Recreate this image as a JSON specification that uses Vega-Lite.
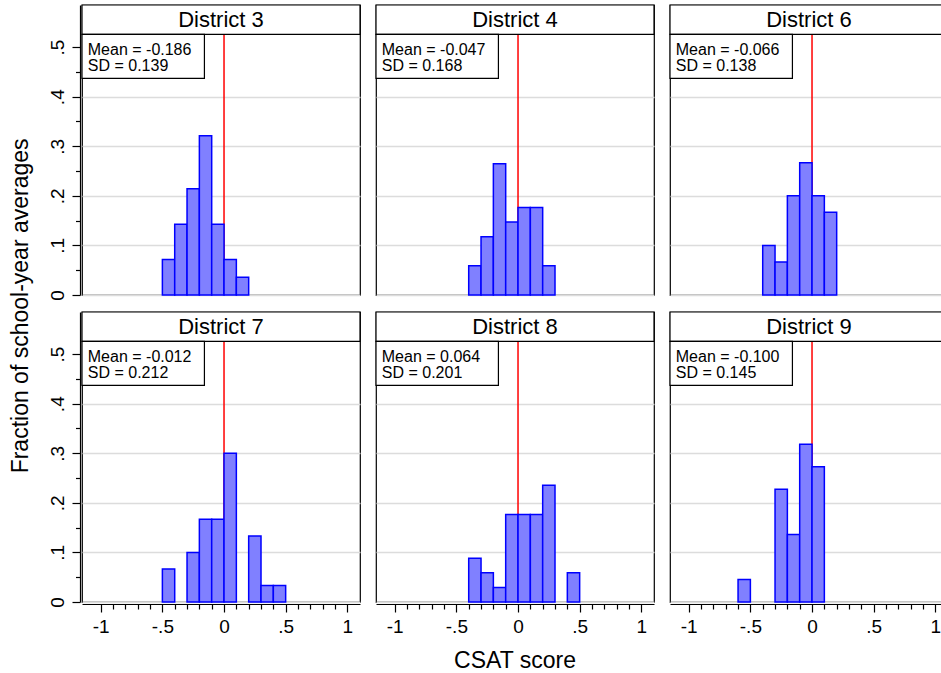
{
  "$schema": "https://vega.github.io/schema/vega-lite/v6.json",
  "background": "white",
  "padding": {"left": 9, "top": 2, "right": 0, "bottom": 0},
  "title": {"text": "Fraction of school-year averages", "orient": "left", "anchor": "middle", "fontSize": 23, "fontWeight": "normal", "color": "black", "offset": 15, "dx": 32},
  "config": {
    "font": "Liberation Sans",
    "view": {"stroke": "black", "strokeWidth": 1.2},
    "header": {"labels": false, "labelExpr": "''", "labelFontSize": 1, "labelPadding": 0, "labelColor": "white"},
    "axis": {"titleFontWeight": "normal", "titleFontSize": 23, "titleColor": "black", "labelColor": "black", "labelFontSize": 19, "domainColor": "black", "tickColor": "black", "domainWidth": 1.2, "tickWidth": 1.2, "labelOverlap": false, "labelFlush": false, "tickCount": 100}
  },
  "data": {"values": [
    {"kind": "bin", "district": "District 3", "bin_start": -0.5, "bin_end": -0.4, "frac": 0.0714},
    {"kind": "bin", "district": "District 3", "bin_start": -0.4, "bin_end": -0.3, "frac": 0.1429},
    {"kind": "bin", "district": "District 3", "bin_start": -0.3, "bin_end": -0.2, "frac": 0.2143},
    {"kind": "bin", "district": "District 3", "bin_start": -0.2, "bin_end": -0.1, "frac": 0.3214},
    {"kind": "bin", "district": "District 3", "bin_start": -0.1, "bin_end": 0.0, "frac": 0.1429},
    {"kind": "bin", "district": "District 3", "bin_start": 0.0, "bin_end": 0.1, "frac": 0.0714},
    {"kind": "bin", "district": "District 3", "bin_start": 0.1, "bin_end": 0.2, "frac": 0.0357},
    {"kind": "bin", "district": "District 4", "bin_start": -0.4, "bin_end": -0.3, "frac": 0.0588},
    {"kind": "bin", "district": "District 4", "bin_start": -0.3, "bin_end": -0.2, "frac": 0.1176},
    {"kind": "bin", "district": "District 4", "bin_start": -0.2, "bin_end": -0.1, "frac": 0.2647},
    {"kind": "bin", "district": "District 4", "bin_start": -0.1, "bin_end": 0.0, "frac": 0.1471},
    {"kind": "bin", "district": "District 4", "bin_start": 0.0, "bin_end": 0.1, "frac": 0.1765},
    {"kind": "bin", "district": "District 4", "bin_start": 0.1, "bin_end": 0.2, "frac": 0.1765},
    {"kind": "bin", "district": "District 4", "bin_start": 0.2, "bin_end": 0.3, "frac": 0.0588},
    {"kind": "bin", "district": "District 6", "bin_start": -0.4, "bin_end": -0.3, "frac": 0.1},
    {"kind": "bin", "district": "District 6", "bin_start": -0.3, "bin_end": -0.2, "frac": 0.0667},
    {"kind": "bin", "district": "District 6", "bin_start": -0.2, "bin_end": -0.1, "frac": 0.2},
    {"kind": "bin", "district": "District 6", "bin_start": -0.1, "bin_end": 0.0, "frac": 0.2667},
    {"kind": "bin", "district": "District 6", "bin_start": 0.0, "bin_end": 0.1, "frac": 0.2},
    {"kind": "bin", "district": "District 6", "bin_start": 0.1, "bin_end": 0.2, "frac": 0.1667},
    {"kind": "bin", "district": "District 7", "bin_start": -0.5, "bin_end": -0.4, "frac": 0.0667},
    {"kind": "bin", "district": "District 7", "bin_start": -0.3, "bin_end": -0.2, "frac": 0.1},
    {"kind": "bin", "district": "District 7", "bin_start": -0.2, "bin_end": -0.1, "frac": 0.1667},
    {"kind": "bin", "district": "District 7", "bin_start": -0.1, "bin_end": 0.0, "frac": 0.1667},
    {"kind": "bin", "district": "District 7", "bin_start": 0.0, "bin_end": 0.1, "frac": 0.3},
    {"kind": "bin", "district": "District 7", "bin_start": 0.2, "bin_end": 0.3, "frac": 0.1333},
    {"kind": "bin", "district": "District 7", "bin_start": 0.3, "bin_end": 0.4, "frac": 0.0333},
    {"kind": "bin", "district": "District 7", "bin_start": 0.4, "bin_end": 0.5, "frac": 0.0333},
    {"kind": "bin", "district": "District 8", "bin_start": -0.4, "bin_end": -0.3, "frac": 0.0882},
    {"kind": "bin", "district": "District 8", "bin_start": -0.3, "bin_end": -0.2, "frac": 0.0588},
    {"kind": "bin", "district": "District 8", "bin_start": -0.2, "bin_end": -0.1, "frac": 0.0294},
    {"kind": "bin", "district": "District 8", "bin_start": -0.1, "bin_end": 0.0, "frac": 0.1765},
    {"kind": "bin", "district": "District 8", "bin_start": 0.0, "bin_end": 0.1, "frac": 0.1765},
    {"kind": "bin", "district": "District 8", "bin_start": 0.1, "bin_end": 0.2, "frac": 0.1765},
    {"kind": "bin", "district": "District 8", "bin_start": 0.2, "bin_end": 0.3, "frac": 0.2353},
    {"kind": "bin", "district": "District 8", "bin_start": 0.4, "bin_end": 0.5, "frac": 0.0588},
    {"kind": "bin", "district": "District 9", "bin_start": -0.6, "bin_end": -0.5, "frac": 0.0455},
    {"kind": "bin", "district": "District 9", "bin_start": -0.3, "bin_end": -0.2, "frac": 0.2273},
    {"kind": "bin", "district": "District 9", "bin_start": -0.2, "bin_end": -0.1, "frac": 0.1364},
    {"kind": "bin", "district": "District 9", "bin_start": -0.1, "bin_end": 0.0, "frac": 0.3182},
    {"kind": "bin", "district": "District 9", "bin_start": 0.0, "bin_end": 0.1, "frac": 0.2727},
    {"kind": "stat", "district": "District 3", "mean_text": "Mean = -0.186", "sd_text": "SD = 0.139"},
    {"kind": "stat", "district": "District 4", "mean_text": "Mean = -0.047", "sd_text": "SD = 0.168"},
    {"kind": "stat", "district": "District 6", "mean_text": "Mean = -0.066", "sd_text": "SD = 0.138"},
    {"kind": "stat", "district": "District 7", "mean_text": "Mean = -0.012", "sd_text": "SD = 0.212"},
    {"kind": "stat", "district": "District 8", "mean_text": "Mean = 0.064", "sd_text": "SD = 0.201"},
    {"kind": "stat", "district": "District 9", "mean_text": "Mean = -0.100", "sd_text": "SD = 0.145"}
  ]},
  "facet": {"field": "district", "type": "nominal", "title": "CSAT score\u00a0\u00a0\u00a0\u00a0\u00a0\u00a0\u00a0", "header": {"labels": false, "labelExpr": "''", "labelFontSize": 1, "labelPadding": 0, "labelColor": "white", "titleOrient": "bottom", "titleFontSize": 23, "titleFontWeight": "normal", "titleColor": "black", "titlePadding": 14}},
  "columns": 3,
  "spacing": {"row": 12, "column": 12},
  "spec": {
    "width": 278,
    "height": 290,
    "layer": [
      {
        "transform": [{"filter": "datum.kind === 'stat'"}],
        "mark": {"type": "rule", "color": "#ff0000", "strokeWidth": 1.5},
        "encoding": {
          "x": {
            "datum": 0, "type": "quantitative", "title": null,
            "scale": {"domain": [-1.152, 1.103], "nice": false, "zero": false},
            "axis": {
              "values": [-1, -0.9, -0.8, -0.7, -0.6, -0.5, -0.4, -0.3, -0.2, -0.1, 0, 0.1, 0.2, 0.3, 0.4, 0.5, 0.6, 0.7, 0.8, 0.9, 1],
              "tickCount": 100,
              "labelExpr": "datum.value == -1 ? '-1' : datum.value == -0.5 ? '-.5' : datum.value == 0 ? '0' : datum.value == 0.5 ? '.5' : datum.value == 1 ? '1' : ''",
              "tickSize": {"condition": {"test": "datum.value == -1 || datum.value == -0.5 || datum.value == 0 || datum.value == 0.5 || datum.value == 1", "value": 8}, "value": 5},
              "grid": false,
              "labelPadding": 5,
              "labelFlush": false,
              "labelOverlap": false
            }
          },
          "y": {
            "datum": 0, "type": "quantitative", "title": null,
            "scale": {"domain": [0, 0.585], "nice": false, "zero": true},
            "axis": {
              "values": [0, 0.05, 0.1, 0.15, 0.2, 0.25, 0.3, 0.35, 0.4, 0.45, 0.5],
              "tickCount": 100,
              "labelExpr": "datum.value == 0 ? '0' : datum.value == 0.1 ? '.1' : datum.value == 0.2 ? '.2' : datum.value == 0.3 ? '.3' : datum.value == 0.4 ? '.4' : datum.value == 0.5 ? '.5' : ''",
              "tickSize": {"condition": {"test": "datum.value == 0 || datum.value == 0.1 || datum.value == 0.2 || datum.value == 0.3 || datum.value == 0.4 || datum.value == 0.5", "value": 8}, "value": 4.5},
              "grid": true,
              "gridColor": "#dcdcdc",
              "gridWidth": 1.5,
              "gridOpacity": {"condition": {"test": "datum.value == 0 || datum.value == 0.1 || datum.value == 0.2 || datum.value == 0.3 || datum.value == 0.4", "value": 1}, "value": 0},
              "labelAngle": -90,
              "labelAlign": "center",
              "labelBaseline": "bottom",
              "labelPadding": 5,
              "labelOverlap": false
            }
          },
          "y2": {"datum": 0.5256}
        }
      },
      {
        "transform": [{"filter": "datum.kind === 'bin'"}],
        "mark": {"type": "rect", "fill": "#8080ff", "stroke": "#0000ff", "strokeWidth": 1.5},
        "encoding": {
          "x": {
            "field": "bin_start", "type": "quantitative", "title": null,
            "scale": {"domain": [-1.152, 1.103], "nice": false, "zero": false},
            "axis": {
              "values": [-1, -0.9, -0.8, -0.7, -0.6, -0.5, -0.4, -0.3, -0.2, -0.1, 0, 0.1, 0.2, 0.3, 0.4, 0.5, 0.6, 0.7, 0.8, 0.9, 1],
              "tickCount": 100,
              "labelExpr": "datum.value == -1 ? '-1' : datum.value == -0.5 ? '-.5' : datum.value == 0 ? '0' : datum.value == 0.5 ? '.5' : datum.value == 1 ? '1' : ''",
              "tickSize": {"condition": {"test": "datum.value == -1 || datum.value == -0.5 || datum.value == 0 || datum.value == 0.5 || datum.value == 1", "value": 8}, "value": 5},
              "grid": false,
              "labelPadding": 5,
              "labelFlush": false,
              "labelOverlap": false
            }
          },
          "x2": {"field": "bin_end"},
          "y": {
            "field": "frac", "type": "quantitative", "title": null,
            "scale": {"domain": [0, 0.585], "nice": false, "zero": true},
            "axis": {
              "values": [0, 0.05, 0.1, 0.15, 0.2, 0.25, 0.3, 0.35, 0.4, 0.45, 0.5],
              "tickCount": 100,
              "labelExpr": "datum.value == 0 ? '0' : datum.value == 0.1 ? '.1' : datum.value == 0.2 ? '.2' : datum.value == 0.3 ? '.3' : datum.value == 0.4 ? '.4' : datum.value == 0.5 ? '.5' : ''",
              "tickSize": {"condition": {"test": "datum.value == 0 || datum.value == 0.1 || datum.value == 0.2 || datum.value == 0.3 || datum.value == 0.4 || datum.value == 0.5", "value": 8}, "value": 4.5},
              "grid": true,
              "gridColor": "#dcdcdc",
              "gridWidth": 1.5,
              "gridOpacity": {"condition": {"test": "datum.value == 0 || datum.value == 0.1 || datum.value == 0.2 || datum.value == 0.3 || datum.value == 0.4", "value": 1}, "value": 0},
              "labelAngle": -90,
              "labelAlign": "center",
              "labelBaseline": "bottom",
              "labelPadding": 5,
              "labelOverlap": false
            }
          },
          "y2": {"datum": 0}
        }
      },
      {
        "transform": [{"filter": "datum.kind === 'stat'"}],
        "mark": {"type": "rect", "fill": "white", "stroke": "black", "strokeWidth": 1.2},
        "encoding": {
          "x": {"datum": -1.152, "type": "quantitative", "title": null},
          "x2": {"datum": 1.103},
          "y": {"datum": 0.5256, "type": "quantitative", "title": null},
          "y2": {"datum": 0.585}
        }
      },
      {
        "transform": [{"filter": "datum.kind === 'stat'"}],
        "mark": {"type": "text", "fontSize": 22, "align": "center", "baseline": "middle", "color": "black"},
        "encoding": {
          "x": {"datum": -0.0245, "type": "quantitative", "title": null},
          "y": {"datum": 0.5553, "type": "quantitative", "title": null},
          "text": {"field": "district"}
        }
      },
      {
        "transform": [{"filter": "datum.kind === 'stat'"}],
        "mark": {"type": "rect", "fill": "white", "stroke": "black", "strokeWidth": 1.2},
        "encoding": {
          "x": {"datum": -1.152, "type": "quantitative", "title": null},
          "x2": {"datum": -0.159},
          "y": {"datum": 0.437, "type": "quantitative", "title": null},
          "y2": {"datum": 0.5256}
        }
      },
      {
        "transform": [{"filter": "datum.kind === 'stat'"}],
        "mark": {"type": "text", "fontSize": 16, "align": "left", "baseline": "middle", "color": "black"},
        "encoding": {
          "x": {"datum": -1.105, "type": "quantitative", "title": null},
          "y": {"datum": 0.494, "type": "quantitative", "title": null},
          "text": {"field": "mean_text"}
        }
      },
      {
        "transform": [{"filter": "datum.kind === 'stat'"}],
        "mark": {"type": "text", "fontSize": 16, "align": "left", "baseline": "middle", "color": "black"},
        "encoding": {
          "x": {"datum": -1.105, "type": "quantitative", "title": null},
          "y": {"datum": 0.4623, "type": "quantitative", "title": null},
          "text": {"field": "sd_text"}
        }
      }
    ]
  }
}
